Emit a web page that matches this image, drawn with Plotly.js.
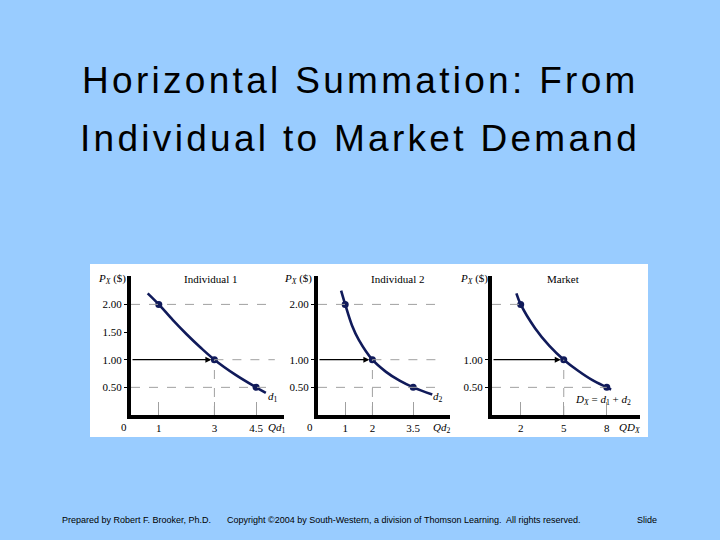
<!DOCTYPE html>
<html>
<head>
<meta charset="utf-8">
<script src="https://cdn.plot.ly/plotly-3.0.1.min.js"></script>
<style>html,body{margin:0;padding:0;background:#99ccff;}#chart{width:720px;height:540px;}</style>
</head>
<body>
<div id="chart"></div>
<script>
// ---- data ----
const titleLines = ["Horizontal Summation: From", "Individual to Market Demand"];
const panelTitles = ["Individual 1", "Individual 2", "Market"];
const qtyAxisLabels = ["<i>Qd</i><sub>1</sub>", "<i>Qd</i><sub>2</sub>", "<i>QD</i><sub><i>X</i></sub>"];
const curveLabels = ["<i>d</i><sub>1</sub>", "<i>d</i><sub>2</sub>", "<i>D<sub>X</sub></i> = <i>d</i><sub>1</sub> + <i>d</i><sub>2</sub>"];

const priceTickVals1 = [0.5, 1, 1.5, 2];
const priceTickVals2 = [0.5, 1, 2];
const priceTickVals3 = [0.5, 1];

const qtyTicks1 = [1, 3, 4.5];
const qtyTicks2 = [1, 2, 3.5];
const qtyTicks3 = [2, 5, 8];

// curve
const curve1Q = [0.6, 1, 1.5, 2, 2.5, 3, 3.75, 4.5, 4.85];
const curve1P = [2.2, 2.0, 1.72, 1.46, 1.22, 1.0, 0.73, 0.5, 0.4];
const curve2Q = [0.85, 1, 1.25, 1.5, 2, 2.5, 3, 3.5, 4.2];
const curve2P = [2.25, 2.0, 1.62, 1.36, 1.0, 0.78, 0.62, 0.5, 0.37];
const curve3Q = [1.7, 2, 3, 4, 5, 6, 7, 8, 8.3];
const curve3P = [2.2, 2.0, 1.57, 1.25, 1.0, 0.8, 0.63, 0.5, 0.46];

// highlighted points
const point1Q = [1, 3, 4.5];
const point1P = [2, 1, 0.5];
const point2Q = [1, 2, 3.5];
const point2P = [2, 1, 0.5];
const point3Q = [2, 5, 8];
const point3P = [2, 1, 0.5];

// ---- layout geometry ----
const W = 720, H = 540;
const px = v => v / W;
const py = v => (H - v) / H;
const yDom = [py(415), py(276)];
const yMax = (415 - 276) / 55.3;
const xDoms = [[px(131), px(284)], [px(318), px(450)], [px(492), px(640)]];
const xMaxes = [(284 - 131) / 27.8, (450 - 318) / 27.2, (640 - 492) / 14.35];

const navy = "#101a5a";
const grey = "#a0a0a0";
const serif = "Liberation Serif, Times New Roman, serif";
const sans = "Liberation Sans, Arial, sans-serif";

const curvesQ = [curve1Q, curve2Q, curve3Q];
const curvesP = [curve1P, curve2P, curve3P];
const pointsQ = [point1Q, point2Q, point3Q];
const pointsP = [point1P, point2P, point3P];
const qtyTicks = [qtyTicks1, qtyTicks2, qtyTicks3];
const priceTicks = [priceTickVals1, priceTickVals2, priceTickVals3];

const traces = [];
const shapes = [];
const annotations = [];

shapes.push({type: "rect", xref: "paper", yref: "paper", x0: px(90), x1: px(648), y0: py(437), y1: py(264),
  fillcolor: "white", line: {width: 0}, layer: "below"});

const layout = {
  width: W, height: H,
  margin: {l: 0, r: 0, t: 0, b: 0},
  paper_bgcolor: "#99ccff",
  plot_bgcolor: "rgba(0,0,0,0)",
  showlegend: false,
};

for (let i = 0; i < 3; i++) {
  const s = i === 0 ? "" : String(i + 1);
  const xr = "x" + s, yr = "y" + s;
  layout["xaxis" + s] = {domain: xDoms[i], range: [0, xMaxes[i]], anchor: yr,
    showline: true, linecolor: "#000", linewidth: 4, showgrid: false, zeroline: false,
    tickmode: "array", tickvals: qtyTicks[i], ticktext: qtyTicks[i].map(String),
    ticks: "inside", ticklen: 13, tickcolor: grey, tickwidth: 1,
    tickfont: {family: serif, size: 11, color: "#000"}, fixedrange: true};
  layout["yaxis" + s] = {domain: yDom, range: [0, yMax], anchor: xr,
    showline: true, linecolor: "#000", linewidth: 4, showgrid: false, zeroline: false,
    tickmode: "array", tickvals: priceTicks[i], ticktext: priceTicks[i].map(v => v.toFixed(2)),
    ticks: "outside", ticklen: 3, tickcolor: "#000",
    tickfont: {family: serif, size: 11, color: "#000"}, fixedrange: true};

  const Q = pointsQ[i], P = pointsP[i];
  const xEnd = xMaxes[i] * 0.94;
  if (i < 2) {
    shapes.push({type: "line", xref: xr, yref: yr, x0: 0, x1: xEnd, y0: P[0], y1: P[0], line: {color: grey, width: 1, dash: "dash"}});
    shapes.push({type: "line", xref: xr, yref: yr, x0: Q[1], x1: xEnd, y0: P[1], y1: P[1], line: {color: grey, width: 1, dash: "dash"}});
    shapes.push({type: "line", xref: xr, yref: yr, x0: 0, x1: xEnd, y0: P[2], y1: P[2], line: {color: grey, width: 1, dash: "dash"}});
  } else {
    shapes.push({type: "line", xref: xr, yref: yr, x0: 0, x1: Q[0], y0: P[0], y1: P[0], line: {color: grey, width: 1, dash: "dash"}});
    shapes.push({type: "line", xref: xr, yref: yr, x0: 0, x1: Q[2], y0: P[2], y1: P[2], line: {color: grey, width: 1, dash: "dash"}});
  }
  shapes.push({type: "line", xref: xr, yref: yr, x0: Q[1], x1: Q[1], y0: 0, y1: P[1], line: {color: grey, width: 1, dash: "dash"}});
  annotations.push({xref: xr, yref: yr, x: Q[1], y: P[1], ax: 0, ay: P[1], axref: xr, ayref: yr,
    text: "", showarrow: true, arrowhead: 2, arrowsize: 1, arrowwidth: 1.2, arrowcolor: "#000", standoff: 3});

  traces.push({x: curvesQ[i], y: curvesP[i], xaxis: xr, yaxis: yr, type: "scatter", mode: "lines",
    line: {color: navy, width: 2.6, shape: "spline", smoothing: 1}, hoverinfo: "skip"});
  traces.push({x: Q, y: P, xaxis: xr, yaxis: yr, type: "scatter", mode: "markers",
    marker: {color: navy, size: 7}, hoverinfo: "skip"});
}

const txt = (t, x, y, opts = {}) => annotations.push(Object.assign({xref: "paper", yref: "paper", x: px(x), y: py(y),
  text: t, showarrow: false, font: {family: serif, size: 11, color: "#000"}, xanchor: "center", yanchor: "middle"}, opts));

// slide title (two lines, wide lettering as in the slide)
const titleY = [80.5, 138.5];
titleLines.forEach((t, i) => txt('<span style="letter-spacing:3.3px">' + t + '</span>', 360, titleY[i],
  {font: {family: sans, size: 37, color: "#000"}}));

const pxLabelX = [112, 298, 474];
const titleX = [210, 397, 563];
const qLabelX = [276, 441, 629];
const zeroX = [124, 310];
pxLabelX.forEach(x => txt("<i>P<sub>X</sub></i> ($)", x, 279));
panelTitles.forEach((t, i) => txt(t, titleX[i], 279));
qtyAxisLabels.forEach((t, i) => txt(t, qLabelX[i], 428));
zeroX.forEach(x => txt("0", x, 427));
txt(curveLabels[0], 273, 397);
txt(curveLabels[1], 438, 397);
txt(curveLabels[2], 603, 400);

const foot = {family: sans, size: 9, color: "#000"};
txt("Prepared by Robert F. Brooker, Ph.D.", 60, 520, {xanchor: "left", font: foot});
txt("Copyright ©2004 by South-Western, a division of Thomson Learning.  All rights reserved.", 225, 520, {xanchor: "left", font: foot});
txt("Slide", 635, 520, {xanchor: "left", font: foot});

layout.shapes = shapes;
layout.annotations = annotations;

Plotly.newPlot("chart", traces, layout, {displayModeBar: false, staticPlot: true});
</script>
</body>
</html>
